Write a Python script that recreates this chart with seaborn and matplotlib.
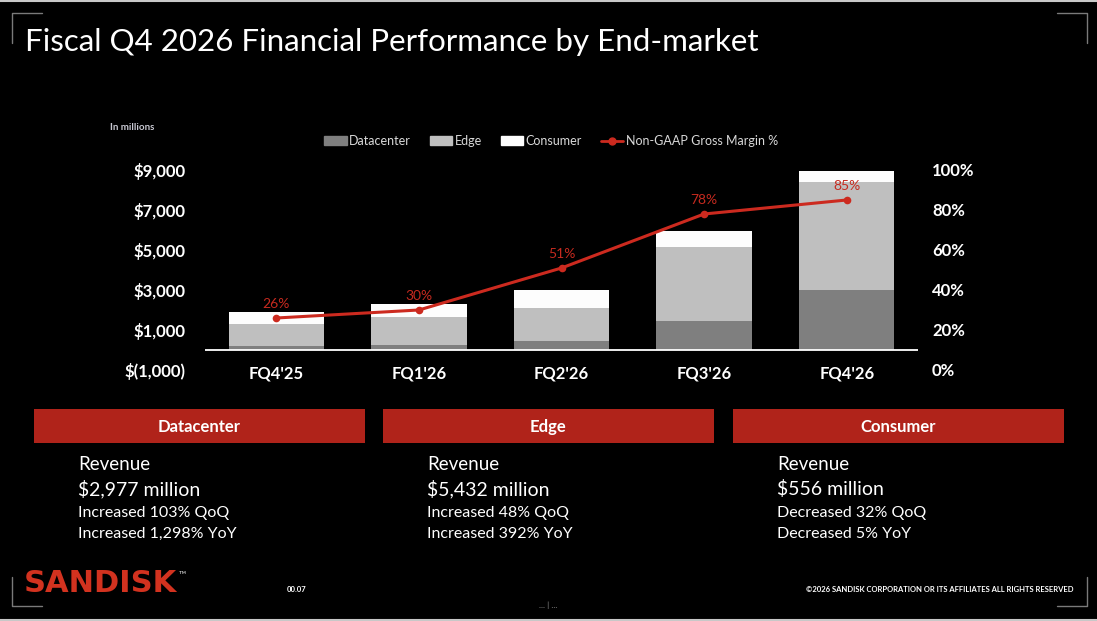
import numpy as np
import matplotlib
matplotlib.use("Agg")
import matplotlib.pyplot as plt
from matplotlib.patches import Rectangle, Patch
from matplotlib.lines import Line2D
from matplotlib.ticker import PercentFormatter
import seaborn as sns

# Revenue by end-market, $ millions
quarters = ["FQ4'25", "FQ1'26", "FQ2'26", "FQ3'26", "FQ4'26"]
datacenter = [213, 269, 440, 1467, 2977]
edge = [1104, 1387, 1678, 3670, 5432]
consumer = [585, 652, 907, 818, 556]
gross_margin = [0.26, 0.30, 0.51, 0.78, 0.85]
margin_labels = ["26%", "30%", "51%", "78%", "85%"]

left_ticks = [-1000, 1000, 3000, 5000, 7000, 9000]

# Summary panels under the chart
segments = ["Datacenter", "Edge", "Consumer"]
seg_revenue = ["$2,977 million", "$5,432 million", "$556 million"]
seg_qoq = ["Increased 103% QoQ", "Increased 48% QoQ", "Decreased 32% QoQ"]
seg_yoy = ["Increased 1,298% YoY", "Increased 392% YoY", "Decreased 5% YoY"]

W, H = 1097, 621
RED_LINE = "#cc2a1f"
RED_BOX = "#b0231a"
C_DC, C_EDGE, C_CONS = "#7f7f7f", "#bfbfbf", "#fdfdfd"

sns.set_theme(style="dark", rc={"axes.facecolor": "black", "figure.facecolor": "black"})
plt.rcParams["font.family"] = ["Lato", "DejaVu Sans"]


def fx(px):
    return px / W


def fy(py):
    return 1 - py / H


def money(v):
    return f"$({abs(v):,})" if v < 0 else f"${v:,}"


fig = plt.figure(figsize=(W / 100, H / 100), dpi=100)

# ---- chart ----
ax = fig.add_axes([fx(205), fy(370), fx(918) - fx(205), fy(170) - fy(370)])
dc = np.array(datacenter)
ed = np.array(edge)
bar_kw = dict(width=0.67, saturation=1, linewidth=0, edgecolor="none", ax=ax)
sns.barplot(x=quarters, y=datacenter, color=C_DC, **bar_kw)
sns.barplot(x=quarters, y=edge, bottom=dc, color=C_EDGE, **bar_kw)
sns.barplot(x=quarters, y=consumer, bottom=dc + ed, color=C_CONS, **bar_kw)
ax.axhline(0, color="white", lw=1.3, zorder=3)
ax.set_ylim(-1000, 9000)
ax.set_xlim(-0.5, len(quarters) - 0.5)
ax.set_xlabel("")
ax.set_ylabel("")
ax.set_yticks(left_ticks, labels=[money(v) for v in left_ticks],
              fontweight="bold", fontsize=12, color="white")
ax.set_xticks(range(len(quarters)), labels=quarters, fontweight="bold", fontsize=12, color="white")
ax.tick_params(axis="y", length=0, pad=14)
ax.tick_params(axis="x", length=0, pad=-3)
for s in ax.spines.values():
    s.set_visible(False)
ax.grid(False)

ax2 = ax.twinx()
xpos = np.arange(len(quarters))
sns.lineplot(x=xpos, y=gross_margin, ax=ax2, color=RED_LINE, lw=2.2,
             marker="o", markersize=5.5, markeredgewidth=0)
for x, y, lab in zip(xpos, gross_margin, margin_labels):
    ax2.annotate(lab, (x, y), xytext=(0, 6), textcoords="offset points",
                 ha="center", va="bottom", color="#c62a1f", fontsize=10)
ax2.set_ylim(0, 1)
ax2.set_yticks(np.arange(0, 1.01, 0.2))
ax2.yaxis.set_major_formatter(PercentFormatter(1.0, decimals=0))
ax2.tick_params(axis="y", length=0, pad=10, labelsize=12, labelcolor="white")
for lab in ax2.get_yticklabels():
    lab.set_fontweight("bold")
ax2.set_ylabel("")
for s in ax2.spines.values():
    s.set_visible(False)
ax2.grid(False)

# legend
handles = [Patch(color=C_DC), Patch(color=C_EDGE), Patch(color=C_CONS),
           Line2D([], [], color=RED_LINE, lw=2, marker="o", markersize=5)]
fig.legend(handles, ["Datacenter", "Edge", "Consumer", "Non-GAAP Gross Margin %"],
           loc="center", bbox_to_anchor=(fx(551), fy(141)), ncol=4, frameon=False,
           fontsize=9, labelcolor="#d9d9d9", handlelength=1.8, handleheight=0.75,
           handletextpad=0.2, columnspacing=1.5)
fig.text(fx(110), fy(128), "In millions", color="#c8c8d2", fontsize=7,
         fontweight="bold", va="center")

# ---- title ----
fig.text(fx(25), fy(42), "Fiscal Q4 2026 Financial Performance by End-market",
         color="white", fontsize=22.5, va="center")

# ---- summary panels ----
box_left = [34, 383, 733]
for i, name in enumerate(segments):
    x0 = box_left[i]
    fig.add_artist(Rectangle((fx(x0), fy(443)), fx(331), fy(409) - fy(443),
                             transform=fig.transFigure, color=RED_BOX, lw=0))
    fig.text(fx(x0 + 165), fy(427), name, color="white", fontsize=12,
             fontweight="bold", ha="center", va="center")
    tx = x0 + 44
    fig.text(fx(tx), fy(464), "Revenue", color="white", fontsize=13.5, va="center")
    fig.text(fx(tx), fy(489), seg_revenue[i], color="white", fontsize=14, va="center")
    fig.text(fx(tx), fy(513), seg_qoq[i], color="white", fontsize=11.5, va="center")
    fig.text(fx(tx), fy(534), seg_yoy[i], color="white", fontsize=11.5, va="center")

# ---- footer ----
fig.text(fx(24), fy(584), "SANDISK", color="#d2321f", fontsize=22, fontweight="heavy",
         va="center", family=["DejaVu Sans"])
fig.text(fx(179), fy(575), "™", color="#d0d0d0", fontsize=7, va="center")
fig.text(fx(287), fy(590), "00.07", color="white", fontsize=5.5, fontweight="bold", va="center")
fig.text(fx(1073), fy(590), "©2026 SANDISK CORPORATION OR ITS AFFILIATES ALL RIGHTS RESERVED",
         color="white", fontsize=5.5, fontweight="bold", ha="right", va="center")
fig.text(fx(548), fy(605), "... | ...", color="#808080", fontsize=6, ha="center", va="center")

# corner brackets and frame lines
gray = "#7a7a7a"
for xs, ys in [([42, 12, 12], [13, 13, 43]), ([1057, 1087, 1087], [13, 13, 43]),
               ([12, 12, 42], [577, 606, 606]), ([1087, 1087, 1057], [577, 606, 606])]:
    fig.add_artist(Line2D([fx(v) for v in xs], [fy(v) for v in ys],
                          transform=fig.transFigure, color=gray, lw=1))
fig.add_artist(Line2D([0, 1], [fy(0.5), fy(0.5)], transform=fig.transFigure,
                      color="#c8c8c8", lw=1.5))
fig.add_artist(Line2D([0, 1], [fy(620), fy(620)], transform=fig.transFigure,
                      color="#c8c8c8", lw=1.5))

fig.savefig("out.png", dpi=100, facecolor="black")
